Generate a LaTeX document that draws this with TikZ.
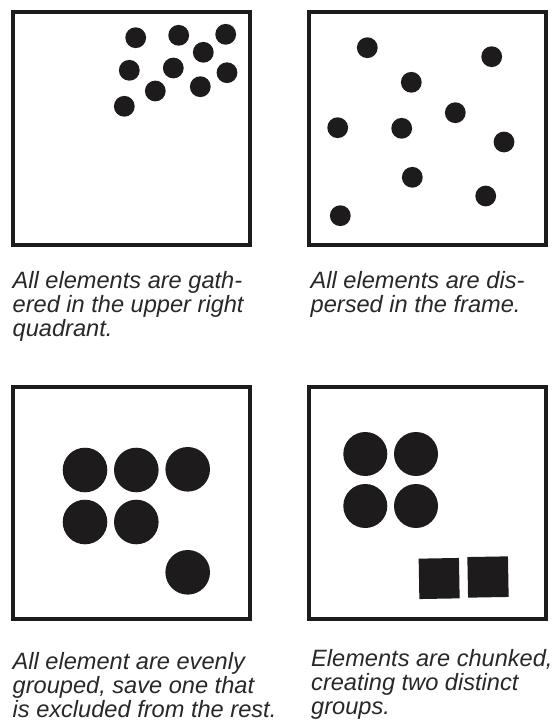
\documentclass[tikz,border=0pt]{standalone}
\usepackage{fontspec}
\setmainfont{Liberation Sans}
\definecolor{ink}{RGB}{30,27,28}
\definecolor{txt}{RGB}{40,40,40}
\begin{document}
\begin{tikzpicture}[x=1pt,y=-1pt,
  frame/.style={draw=ink,line width=3.8pt},
  dot/.style={fill=ink},
  caption/.style={anchor=north west,inner sep=0pt,align=left,text=txt,
    font=\fontsize{23.6}{24.1}\selectfont\itshape}]
\useasboundingbox (0,0) rectangle (555,725);
\fill[white] (0,0) rectangle (555,725);
% panel 1
\draw[frame] (13,12) rectangle (250,245);
\foreach \x/\y in {135.7/37.7,178.7/35.3,225.7/34.3,203.3/52.3,129.3/70.3,173.3/68,227/72.7,155.3/91,200.3/86.7,124.3/106.3}
  \fill[dot] (\x,\y) circle (10.4);
% panel 2
\draw[frame] (309,12) rectangle (546,245);
\foreach \x/\y in {367.3/47.7,491.7/56.7,411.3/82.3,455.3/112.7,337.7/127.7,401.7/128.3,504/142,412.3/177.3,485.7/196,340.3/215.7}
  \fill[dot] (\x,\y) circle (10.4);
% panel 3
\draw[frame] (13,387) rectangle (250,619);
\foreach \x/\y in {85/470,136.3/470,187.7/469.3,85/522,136.3/522,187.7/572.3}
  \fill[dot] (\x,\y) circle (22.3);
% panel 4
\draw[frame] (309,387) rectangle (546,619);
\foreach \x/\y in {365.3/454,416/454,365.3/506,416/506}
  \fill[dot] (\x,\y) circle (22);
\fill[dot,rotate around={1:(439.2,578.5)}] (419,558.3) rectangle (459.3,598.7);
\fill[dot,rotate around={1:(488,577)}] (467.7,556.7) rectangle (508.3,597.3);
% captions
\node[caption] (c1) at (12.5,271) {All elements are gath-\\ered in the upper right\\quadrant.};
\node[caption] (c2) at (310.5,271.5) {All elements are dis-\\persed in the frame.};
\node[caption] (c3) at (12.5,652) {All element are evenly\\grouped, save one that\\is excluded from the rest.};
\node[caption] (c4) at (311,649) {Elements are chunked,\\creating two distinct\\groups.};
\end{tikzpicture}
\end{document}
